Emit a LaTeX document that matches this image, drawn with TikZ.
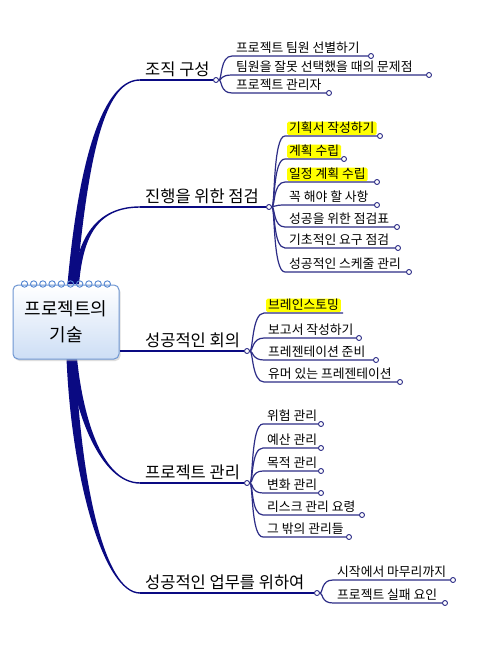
\documentclass[tikz,border=0pt]{standalone}
\usepackage{fontspec}
\setmainfont{Noto Sans CJK KR}
\usetikzlibrary{shadows}
\definecolor{navyc}{RGB}{10,10,130}
\definecolor{leafc}{RGB}{45,45,135}
\definecolor{ringc}{RGB}{85,135,210}
\definecolor{boxb}{RGB}{110,150,210}
\definecolor{boxf}{RGB}{205,222,245}
\definecolor{hlc}{RGB}{255,255,0}
\tikzset{
  trunk/.style={fill=navyc},
  mainline/.style={draw=navyc,line width=1.3pt},
  leafline/.style={draw=leafc,line width=1.2pt},
  dot/.style={circle,draw=leafc,fill=white,line width=0.9pt,minimum size=5pt,inner sep=0pt},
  mainlabel/.style={anchor=base west,inner sep=0pt,font=\fontsize{16.5}{18}\selectfont},
  leaftext/.style={anchor=south west,inner xsep=2pt,inner ysep=0pt,text height=11pt,text depth=2.5pt,font=\fontsize{12.8}{14}\selectfont},
  hilite/.style={fill=hlc,rounded corners=1.5pt},
  rootbox/.style={draw=boxb,line width=1pt,rounded corners=5pt,top color=white,bottom color=boxf,
    minimum width=106pt,minimum height=74pt,align=center,font=\fontsize{18}{26}\selectfont,
    drop shadow={shadow xshift=1.5pt,shadow yshift=-2pt,fill=black!25}},
  ring/.style={draw=ringc,line width=0.9pt}
}
% tapered trunk branches: start, c1, c2, end, start width
\newcommand\tapup[9]{\fill[trunk] (#1-#9/2,#2) .. controls (#3-#9/2,#4) and (#5,#6-0.7) .. (#7,#8-0.7) -- (#7,#8+0.7) .. controls (#5,#6+0.7) and (#3+#9/2,#4) .. (#1+#9/2,#2) -- cycle;}
\newcommand\tapdn[9]{\fill[trunk] (#1-#9/2,#2) .. controls (#3-#9/2,#4) and (#5,#6+0.7) .. (#7,#8+0.7) -- (#7,#8-0.7) .. controls (#5,#6-0.7) and (#3+#9/2,#4) .. (#1+#9/2,#2) -- cycle;}
% leaf: name, parent, y, endx, text, extra style
\newcommand\leaf[6]{%
  \coordinate (#1s) at (\gx,#3);
  \node[dot] (#1) at (#4,#3) {};
  \node[leaftext,#6] (#1t) at (\gx+2,#3-0.6) {#5};
  \draw[leafline] (#2) .. controls +(6,0) and +(-12,0) .. (#1s) -- (#1);
}
\begin{document}
\begin{tikzpicture}[x=1pt,y=-1pt]
\fill[white] (0,0) rectangle (500,647);
\path[use as bounding box] (0,0) rectangle (500,647);

% trunks
\tapup{72}{284}{85}{140}{108}{80}{140}{80}{9}
\tapup{76}{284}{80}{240}{95}{207}{140}{207}{6}
\tapdn{73}{358}{78}{410}{100}{483}{140}{483}{8}
\tapdn{71}{358}{76}{480}{104}{593}{140}{593}{9}
\coordinate (t1) at (140,80);
\coordinate (t2) at (140,207);
\coordinate (t4) at (140,483);
\coordinate (t5) at (140,593);

% root
\node[rootbox] (root) at (66,322) {프로젝트의\\기술};
\foreach \i in {0,...,9} \draw[ring] (24.5+9.2*\i,284) circle[radius=3.2pt];

% main branch dots and labels
\node[dot] (d1) at (216,80) {};
\node[dot] (d2) at (269,207) {};
\node[dot] (d3) at (247,351) {};
\node[dot] (d4) at (247,483) {};
\node[dot] (d5) at (317,593) {};
\draw[mainline] (t1) -- (d1);
\draw[mainline] (t2) -- (d2);
\draw[mainline] (root.east |- d3) -- (d3);
\draw[mainline] (t4) -- (d4);
\draw[mainline] (t5) -- (d5);
\node[mainlabel] (m1) at (145,75.5) {조직 구성};
\node[mainlabel] (m2) at (145,202.5) {진행을 위한 점검};
\node[mainlabel] (m3) at (145,346.5) {성공적인 회의};
\node[mainlabel] (m4) at (145,478.5) {프로젝트 관리};
\node[mainlabel] (m5) at (145,588.5) {성공적인 업무를 위하여};

% group 1
\def\gx{232}
\leaf{a1}{d1}{56}{371}{프로젝트 팀원 선별하기}{}
\leaf{a2}{d1}{75}{429}{팀원을 잘못 선택했을 때의 문제점}{}
\leaf{a3}{d1}{93}{329}{프로젝트 관리자}{}

% group 2
\def\gx{285}
\leaf{b1}{d2}{136}{380}{기획서 작성하기}{hilite}
\leaf{b2}{d2}{159}{344}{계획 수립}{hilite}
\leaf{b3}{d2}{182}{377}{일정 계획 수립}{hilite}
\leaf{b4}{d2}{205}{377}{꼭 해야 할 사항}{}
\leaf{b5}{d2}{227}{397}{성공을 위한 점검표}{}
\leaf{b6}{d2}{248}{398}{기초적인 요구 점검}{}
\leaf{b7}{d2}{272}{409}{성공적인 스케줄 관리}{}

% group 3
\def\gx{264}
\coordinate (c1s) at (264,313);
\coordinate (c1) at (343,313);
\node[leaftext,hilite] (c1t) at (266,312.4) {브레인스토밍};
\draw[leafline] (d3) .. controls +(6,0) and +(-12,0) .. (c1s) -- (c1);
\leaf{c2}{d3}{338}{359}{보고서 작성하기}{}
\leaf{c3}{d3}{360}{376}{프레젠테이션 준비}{}
\leaf{c4}{d3}{382}{400}{유머 있는 프레젠테이션}{}

% group 4
\def\gx{263}
\leaf{e1}{d4}{424}{321}{위험 관리}{}
\leaf{e2}{d4}{448}{321}{예산 관리}{}
\leaf{e3}{d4}{471}{321}{목적 관리}{}
\leaf{e4}{d4}{493}{321}{변화 관리}{}
\leaf{e5}{d4}{515}{362}{리스크 관리 요령}{}
\leaf{e6}{d4}{537}{349}{그 밖의 관리들}{}

% group 5
\def\gx{333}
\leaf{f1}{d5}{580}{453}{시작에서 마무리까지}{}
\leaf{f2}{d5}{603}{445}{프로젝트 실패 요인}{}
\end{tikzpicture}
\end{document}
